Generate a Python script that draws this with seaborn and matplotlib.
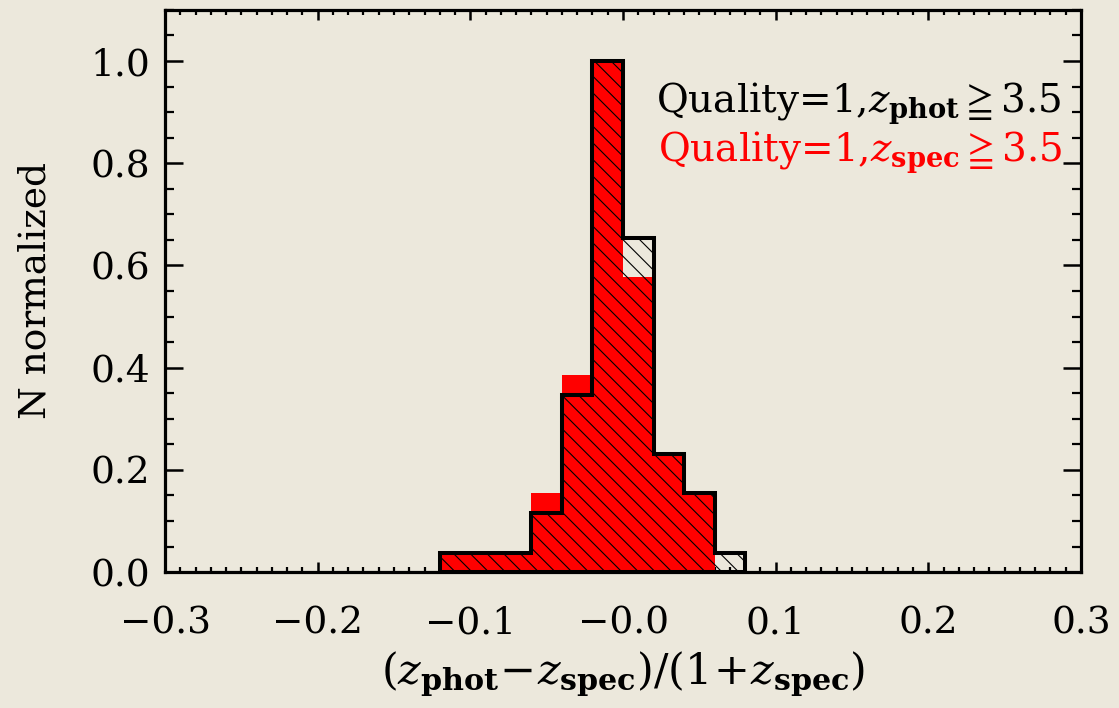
import numpy as np
import pandas as pd
import matplotlib
matplotlib.use('Agg')
import matplotlib.pyplot as plt
import seaborn as sns
from matplotlib.ticker import FixedLocator, FixedFormatter, MultipleLocator

# Histograma de (zphot - zspec)/(1+zspec), bins de 0.02
bin_edges = [-0.12, -0.10, -0.08, -0.06, -0.04, -0.02, 0.00, 0.02, 0.04, 0.06, 0.08]
bin_centers = [-0.11, -0.09, -0.07, -0.05, -0.03, -0.01, 0.01, 0.03, 0.05, 0.07]
# N normalizado
n_phot = [0.038, 0.038, 0.038, 0.115, 0.346, 1.0, 0.654, 0.231, 0.154, 0.038]
n_spec = [0.038, 0.038, 0.038, 0.154, 0.385, 1.0, 0.577, 0.231, 0.154, 0.0]

xticks = [-0.3, -0.2, -0.1, 0.0, 0.1, 0.2, 0.3]
xticklabels = ['\u22120.3', '\u22120.2', '\u22120.1', '\u22120.0', '0.1', '0.2', '0.3']
yticks = [0.0, 0.2, 0.4, 0.6, 0.8, 1.0]
yticklabels = ['0.0', '0.2', '0.4', '0.6', '0.8', '1.0']

label_phot = r'Quality=1,$z_{\mathbf{phot}}\geqq$3.5'
label_spec = r'Quality=1,$z_{\mathbf{spec}}\geqq$3.5'

df = pd.DataFrame({'dz': bin_centers, 'phot': n_phot, 'spec': n_spec})

fundo = '#ECE8DC'
sns.set_style('ticks')
plt.rcParams['font.family'] = ['DejaVu Serif', 'DejaVu Sans']
plt.rcParams['mathtext.fontset'] = 'dejavuserif'
plt.rcParams['hatch.linewidth'] = 0.8
plt.rcParams['hatch.color'] = 'black'
plt.rcParams['text.color'] = 'black'
plt.rcParams['axes.labelcolor'] = 'black'

fig = plt.figure(figsize=(11.19, 7.08), dpi=100, facecolor=fundo)
ax = fig.add_axes([0.1475, 0.192, 0.8185, 0.794])
ax.set_facecolor(fundo)

# histograma vermelho (zspec)
sns.histplot(data=df, x='dz', weights='spec', bins=bin_edges, element='step',
             fill=True, color='red', alpha=1, linewidth=0, ax=ax)

# histograma preto hachurado (zphot)
sns.histplot(data=df, x='dz', weights='phot', bins=bin_edges, element='step',
             fill=True, color='black', ax=ax)
poly = ax.collections[-1]
poly.set_facecolor('none')
poly.set_edgecolor('black')
poly.set_linewidth(2.9)
poly.set_hatch('\\\\')
poly.set_joinstyle('miter')

ax.set_xlim(-0.3, 0.3)
ax.set_ylim(0, 1.1)

ax.xaxis.set_major_locator(FixedLocator(xticks))
ax.xaxis.set_major_formatter(FixedFormatter(xticklabels))
ax.xaxis.set_minor_locator(MultipleLocator(0.01))
ax.yaxis.set_major_locator(FixedLocator(yticks))
ax.yaxis.set_major_formatter(FixedFormatter(yticklabels))
ax.yaxis.set_minor_locator(MultipleLocator(0.05))

ax.tick_params(axis='both', which='both', direction='in', top=True, right=True,
               color='black', labelcolor='black', labelsize=27)
ax.tick_params(axis='x', which='major', length=7.5, width=1.8, pad=24)
ax.tick_params(axis='x', which='minor', length=3.8, width=1.6)
ax.tick_params(axis='y', which='major', length=13, width=1.8, pad=11)
ax.tick_params(axis='y', which='minor', length=6.5, width=1.6)
for s in ax.spines.values():
    s.set_linewidth(2.3)
    s.set_color('black')
    s.set_zorder(5)

ax.set_xlabel(r'$(z_{\mathbf{phot}}\!-\!z_{\mathbf{spec}})/(1\!+\!z_{\mathbf{spec}})$',
              fontsize=31, labelpad=6)
ax.set_ylabel('N normalized', fontsize=27, labelpad=26)

ax.text(0.979, 0.817, label_phot, transform=ax.transAxes, ha='right', va='baseline',
        fontsize=28, color='black')
ax.text(0.979, 0.730, label_spec, transform=ax.transAxes, ha='right', va='baseline',
        fontsize=28, color='red')

fig.savefig('out.png', dpi=100, facecolor=fundo)
